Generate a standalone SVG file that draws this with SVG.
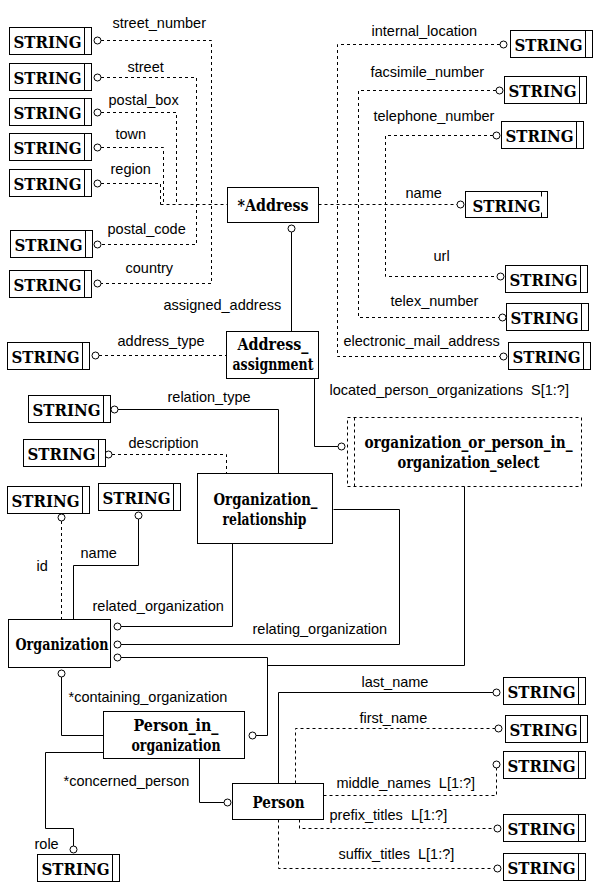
<svg xmlns="http://www.w3.org/2000/svg" width="600" height="888" viewBox="0 0 600 888">
<style>
.bx{fill:#fff;stroke:#000;stroke-width:1}
.ln{fill:none;stroke:#000;stroke-width:1}
.d{stroke-dasharray:3 3}
.c{fill:#fff;stroke:#000;stroke-width:1}
.lbl text{white-space:pre}
.dv{font-family:'DejaVu Serif','Liberation Serif',serif;font-weight:bold;fill:#000;text-anchor:middle}
</style>
<defs>
<g id="str">
<rect class="bx" x="0" y="0" width="82" height="27"/>
<line class="ln" x1="75" y1="0" x2="75" y2="27"/>
<text class="dv" x="38" y="20" font-size="17.5" textLength="68" lengthAdjust="spacingAndGlyphs">STRING</text>
</g>
</defs>
<rect x="0" y="0" width="600" height="888" fill="#fff"/>
<g transform="translate(0.5,0.5)">
<g id="connectors">
<path class="ln d" d="M100.5,40 H211 V283 H100.5"/>
<path class="ln d" d="M100.5,77 H196 V244 H100.5"/>
<path class="ln d" d="M100.5,112 H176 V204"/>
<path class="ln d" d="M100.5,147 H163 V204"/>
<path class="ln d" d="M100.5,183 H160 V204"/>
<path class="ln d" d="M160,204 H227"/>
<path class="ln d" d="M318,204 H456.5"/>
<path class="ln d" d="M499.5,44 H337 V356 H499.5"/>
<path class="ln d" d="M495.5,90 H358 V317 H498.5"/>
<path class="ln d" d="M492.5,135 H385 V276 H496.5"/>
<path class="ln d" d="M98.5,355 H226"/>
<path class="ln d" d="M111.5,454 H226 V473"/>
<path class="ln d" d="M61,520.5 V619"/>
<path class="ln d" d="M295,783 V728 H494.5"/>
<path class="ln d" d="M323,795 H496 V767.5"/>
<path class="ln d" d="M299,819 V828 H493.5"/>
<path class="ln d" d="M278,819 V868 H493.5"/>
<path class="ln" d="M291,231.5 V331"/>
<path class="ln" d="M314,378 V446 H337.5"/>
<path class="ln" d="M117.5,409 H278 V473"/>
<path class="ln" d="M232,543 V626 H120.5"/>
<path class="ln" d="M333,509 H399 V644 H120.5"/>
<path class="ln" d="M464,486 V665 H267"/>
<path class="ln" d="M120.5,657 H267 V735 H255.5"/>
<path class="ln" d="M138,518.5 V565 H73 V619"/>
<path class="ln" d="M61,676.5 V735 H103"/>
<path class="ln" d="M103,752 H45 V828 H73 V845.5"/>
<path class="ln" d="M199,758 V802 H223.5"/>
<path class="ln" d="M278,783 V692 H492.5"/>
<g>
<circle class="c" cx="97" cy="40" r="3.5"/><circle class="c" cx="97" cy="77" r="3.5"/><circle class="c" cx="97" cy="112" r="3.5"/><circle class="c" cx="97" cy="147" r="3.5"/><circle class="c" cx="97" cy="183" r="3.5"/><circle class="c" cx="97" cy="244" r="3.5"/><circle class="c" cx="97" cy="283" r="3.5"/>
<circle class="c" cx="503" cy="44" r="3.5"/><circle class="c" cx="499" cy="90" r="3.5"/><circle class="c" cx="496" cy="135" r="3.5"/><circle class="c" cx="460" cy="204" r="3.5"/><circle class="c" cx="500" cy="276" r="3.5"/><circle class="c" cx="502" cy="317" r="3.5"/><circle class="c" cx="503" cy="356" r="3.5"/>
<circle class="c" cx="291" cy="228" r="3.5"/><circle class="c" cx="95" cy="355" r="3.5"/><circle class="c" cx="341" cy="446" r="3.5"/><circle class="c" cx="114" cy="409" r="3.5"/><circle class="c" cx="108" cy="454" r="3.5"/><circle class="c" cx="61" cy="517" r="3.5"/><circle class="c" cx="138" cy="515" r="3.5"/>
<circle class="c" cx="117" cy="626" r="3.5"/><circle class="c" cx="117" cy="644" r="3.5"/><circle class="c" cx="117" cy="657" r="3.5"/><circle class="c" cx="61" cy="673" r="3.5"/><circle class="c" cx="252" cy="735" r="3.5"/><circle class="c" cx="73" cy="849" r="3.5"/><circle class="c" cx="227" cy="802" r="3.5"/>
<circle class="c" cx="496" cy="692" r="3.5"/><circle class="c" cx="498" cy="728" r="3.5"/><circle class="c" cx="496" cy="764" r="3.5"/><circle class="c" cx="497" cy="828" r="3.5"/><circle class="c" cx="497" cy="868" r="3.5"/>
</g>
<g class="lbl" font-family="Liberation Sans, Arial, sans-serif" font-size="14.5" fill="#000">
<text x="112" y="27">street_number</text>
<text x="127" y="71">street</text>
<text x="108" y="104">postal_box</text>
<text x="115" y="138">town</text>
<text x="110" y="173">region</text>
<text x="107" y="233">postal_code</text>
<text x="125" y="272">country</text>
<text x="371" y="35">internal_location</text>
<text x="370" y="76">facsimile_number</text>
<text x="373" y="120">telephone_number</text>
<text x="405" y="197">name</text>
<text x="433" y="260">url</text>
<text x="390" y="305">telex_number</text>
<text x="343" y="345">electronic_mail_address</text>
<text x="163" y="309">assigned_address</text>
<text x="117" y="345">address_type</text>
<text x="329" y="394">located_person_organizations  S[1:?]</text>
<text x="167" y="401">relation_type</text>
<text x="128" y="447">description</text>
<text x="80" y="557">name</text>
<text x="36" y="570">id</text>
<text x="92" y="610">related_organization</text>
<text x="252" y="633">relating_organization</text>
<text x="68" y="701">*containing_organization</text>
<text x="63" y="785">*concerned_person</text>
<text x="34" y="848">role</text>
<text x="361" y="686">last_name</text>
<text x="359" y="722">first_name</text>
<text x="336" y="787">middle_names  L[1:?]</text>
<text x="329" y="819">prefix_titles  L[1:?]</text>
<text x="338" y="858">suffix_titles  L[1:?]</text>
</g>
</g>
<g class="dv" font-size="16.5">
<g id="address"><rect class="bx" x="227" y="187" width="91" height="35"/><text x="272.5" y="210" textLength="71" lengthAdjust="spacingAndGlyphs">*Address</text></g>
<g id="address_assignment"><rect class="bx" x="226" y="331" width="92" height="47"/><text x="272.5" y="349" textLength="71" lengthAdjust="spacingAndGlyphs">Address_</text><text x="272.5" y="369" textLength="81" lengthAdjust="spacingAndGlyphs">assignment</text></g>
<g id="organization_or_person_in_organization_select"><rect class="ln d" x="347" y="417" width="234" height="69"/><line class="ln d" x1="354" y1="417" x2="354" y2="486"/><text x="468" y="447" textLength="208" lengthAdjust="spacingAndGlyphs">organization_or_person_in_</text><text x="468" y="467" textLength="142" lengthAdjust="spacingAndGlyphs">organization_select</text></g>
<g id="organization_relationship"><rect class="bx" x="197" y="473" width="135" height="70"/><text x="265" y="504" textLength="104" lengthAdjust="spacingAndGlyphs">Organization_</text><text x="264" y="524" textLength="84" lengthAdjust="spacingAndGlyphs">relationship</text></g>
<g id="organization"><rect class="bx" x="8" y="619" width="102" height="48"/><text x="61.5" y="649" textLength="93" lengthAdjust="spacingAndGlyphs">Organization</text></g>
<g id="person_in_organization"><rect class="bx" x="103" y="711" width="141" height="47"/><text x="175.5" y="730" textLength="85" lengthAdjust="spacingAndGlyphs">Person_in_</text><text x="175.5" y="750" textLength="89" lengthAdjust="spacingAndGlyphs">organization</text></g>
<g id="person"><rect class="bx" x="232" y="783" width="91" height="36"/><text x="278" y="807" textLength="52" lengthAdjust="spacingAndGlyphs">Person</text></g>
</g>
<g>
<g id="str_street_number"><use href="#str" x="9" y="27"/></g>
<g id="str_street"><use href="#str" x="9" y="63"/></g>
<g id="str_postal_box"><use href="#str" x="9" y="98"/></g>
<g id="str_town"><use href="#str" x="9" y="133"/></g>
<g id="str_region"><use href="#str" x="9" y="169"/></g>
<g id="str_postal_code"><use href="#str" x="10" y="230"/></g>
<g id="str_country"><use href="#str" x="9" y="270"/></g>
<g id="str_internal_location"><use href="#str" x="510" y="30"/></g>
<g id="str_facsimile_number"><use href="#str" x="504" y="76"/></g>
<g id="str_telephone_number"><use href="#str" x="501" y="121"/></g>
<g id="str_name"><rect class="bx" x="465" y="191" width="82" height="26"/><path class="ln" d="M541,191 V196 M541,212 V217"/><text class="dv" x="506" y="211" font-size="17.5" textLength="68" lengthAdjust="spacingAndGlyphs">STRING</text></g>
<g id="str_url"><use href="#str" x="505" y="265"/></g>
<g id="str_telex_number"><use href="#str" x="506" y="303"/></g>
<g id="str_electronic_mail_address"><use href="#str" x="508" y="342"/></g>
<g id="str_address_type"><use href="#str" x="7" y="342"/></g>
<g id="str_relation_type"><use href="#str" x="28" y="395"/></g>
<g id="str_description"><use href="#str" x="23" y="439"/></g>
<g id="str_id"><use href="#str" x="7" y="486"/></g>
<g id="str_org_name"><use href="#str" x="98" y="483"/></g>
<g id="str_role"><use href="#str" x="37" y="854"/></g>
<g id="str_last_name"><use href="#str" x="503" y="677"/></g>
<g id="str_first_name"><use href="#str" x="505" y="715"/></g>
<g id="str_middle_names"><use href="#str" x="503" y="751"/></g>
<g id="str_prefix_titles"><use href="#str" x="503" y="814"/></g>
<g id="str_suffix_titles"><use href="#str" x="503" y="853"/></g>
</g>
</g>
</svg>
